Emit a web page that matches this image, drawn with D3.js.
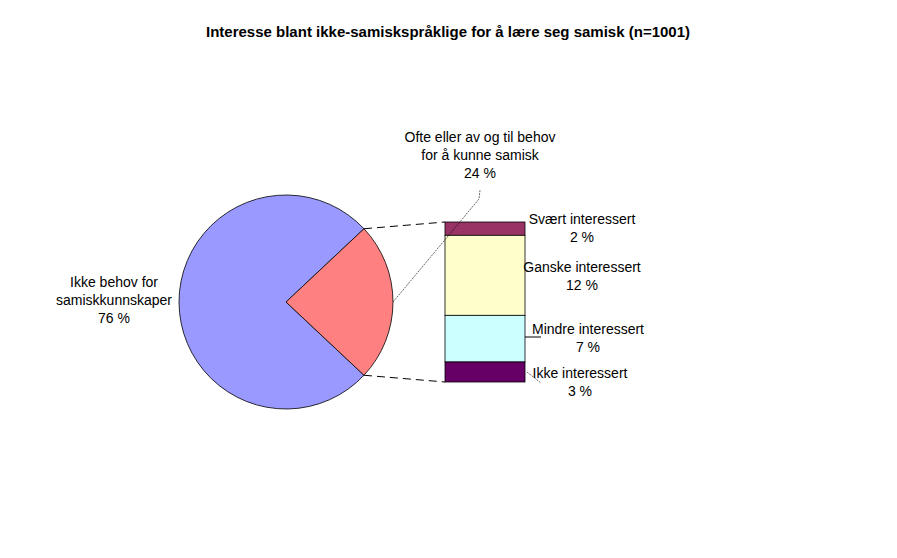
<!DOCTYPE html>
<html><head><meta charset="utf-8">
<script src="https://cdn.jsdelivr.net/npm/d3@7"></script>
<style>body{margin:0;background:#fff}text{font-family:"Liberation Sans",Arial,sans-serif;font-size:14px;fill:#000}</style>
</head><body><svg id="c" width="897" height="558"></svg>
<script>
// pie data
var pieLabels = [["Ikke behov for", "samiskkunnskaper"], ["Ofte eller av og til behov", "for å kunne samisk"]];
var pieValues = [76, 24];
var pieColors = ["#9999ff", "#ff8080"];
// bar breakdown of the 24 % slice, top to bottom
var barLabels = ["Svært interessert", "Ganske interessert", "Mindre interessert", "Ikke interessert"];
var barValues = [2, 12, 7, 3];
var barColors = ["#993366", "#ffffcc", "#ccffff", "#660066"];

var svg = d3.select("#c");
svg.append("text").attr("x", 448).attr("y", 37).attr("text-anchor", "middle")
    .style("font-weight", "bold").style("font-size", "15px")
    .text("Interesse blant ikke-samiskspråklige for å lære seg samisk (n=1001)");

var cx = 286, cy = 302, r = 107;
var bigShare = pieValues[1] / d3.sum(pieValues) * 2 * Math.PI;
var pie = d3.pie().sort(null).value(function (d) { return d; })
    .startAngle(Math.PI / 2 + bigShare / 2).endAngle(Math.PI / 2 + bigShare / 2 + 2 * Math.PI);
var arcs = pie(pieValues);
var arc = d3.arc().innerRadius(0).outerRadius(r);
var g = svg.append("g").attr("transform", "translate(" + cx + "," + cy + ")");
g.selectAll("path").data(arcs).enter().append("path")
    .attr("d", arc).attr("fill", function (d, i) { return pieColors[i]; })
    .attr("stroke", "#000").attr("stroke-width", 0.8);

// bar
var bx = 445, bw = 80;
var y = d3.scaleLinear().domain([0, d3.sum(barValues)]).range([222, 382]);
var cum = 0;
var segs = barValues.map(function (v, i) { var s = { v: v, i: i, y0: cum, y1: cum + v }; cum += v; return s; });
svg.selectAll("rect.seg").data(segs).enter().append("rect")
    .attr("x", bx).attr("width", bw)
    .attr("y", function (d) { return y(d.y0); })
    .attr("height", function (d) { return y(d.y1) - y(d.y0); })
    .attr("fill", function (d) { return barColors[d.i]; })
    .attr("stroke", "#000").attr("stroke-width", 0.8);

// connector lines from slice edges to bar
var a0 = arcs[1].startAngle, a1 = arcs[1].endAngle;
function pt(a) { return [cx + r * Math.sin(a), cy - r * Math.cos(a)]; }
var p0 = pt(a0), p1 = pt(a1);
svg.append("line").attr("x1", p0[0]).attr("y1", p0[1]).attr("x2", bx).attr("y2", y(0))
    .attr("stroke", "#000").attr("stroke-dasharray", "8,5");
svg.append("line").attr("x1", p1[0]).attr("y1", p1[1]).attr("x2", bx).attr("y2", y(d3.sum(barValues)))
    .attr("stroke", "#000").attr("stroke-dasharray", "8,5");

// pie labels
function label(lines, x, yTop) {
    var t = svg.append("text").attr("text-anchor", "middle");
    lines.forEach(function (s, k) { t.append("tspan").attr("x", x).attr("y", yTop + k * 18).text(s); });
}
label(pieLabels[0].concat([pieValues[0] + " %"]), 114, 287);
label(pieLabels[1].concat([pieValues[1] + " %"]), 480, 142);
var mid = pt((a0 + a1) / 2);
svg.append("polyline").attr("points", [mid, [479, 199], [480, 190]].join(" "))
    .attr("fill", "none").attr("stroke", "#000").attr("stroke-width", 0.6).attr("stroke-dasharray", "2,1");

// bar labels
var barLabelPos = [[582, 224], [582, 272], [588, 334], [580, 378]];
segs.forEach(function (d, i) {
    label([barLabels[i], barValues[i] + " %"], barLabelPos[i][0], barLabelPos[i][1]);
});
svg.append("line").attr("x1", 525).attr("y1", 337).attr("x2", 541).attr("y2", 337).attr("stroke", "#000");
svg.append("line").attr("x1", 527).attr("y1", 372).attr("x2", 541).attr("y2", 383)
    .attr("stroke", "#000").attr("stroke-width", 0.6).attr("stroke-dasharray", "2,1");
</script></body></html>
